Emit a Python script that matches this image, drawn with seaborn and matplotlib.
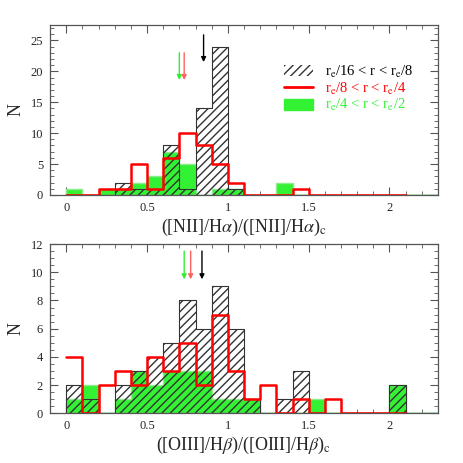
import numpy as np
import pandas as pd
import matplotlib
matplotlib.use("Agg")
import matplotlib.pyplot as plt
import seaborn as sns
from matplotlib.patches import Patch
from matplotlib.lines import Line2D
from matplotlib.ticker import MultipleLocator

# bins of 0.1 from 0 to 2.3
edges = [round(0.1 * i, 2) for i in range(24)]
edges_red = edges[:22]

# top panel: [NII]/Ha
nii_black = [0, 0, 0, 2, 1, 1, 8, 1, 14, 24, 1, 0, 0, 0, 0, 0, 0, 0, 0, 0, 0, 0, 0]
nii_red = [0, 0, 1, 1, 5, 1, 6, 10, 8, 5, 2, 0, 0, 0, 1, 0, 0, 0, 0, 0, 0]
nii_green = [1, 0, 1, 1, 2, 3, 7, 5, 0, 1, 1, 0, 0, 2, 0, 0, 0, 0, 0, 0, 0, 0, 0]
nii_medians = [0.85, 0.73, 0.70]  # black, red, green

# bottom panel: [OIII]/Hb
oiii_black = [2, 1, 0, 2, 3, 4, 5, 8, 6, 9, 6, 1, 0, 1, 3, 0, 0, 0, 0, 0, 2, 0, 0]
oiii_red = [4, 0, 2, 3, 2, 4, 3, 5, 2, 7, 3, 1, 2, 0, 1, 0, 1, 0, 0, 0, 0]
oiii_green = [1, 2, 0, 1, 3, 2, 3, 3, 3, 1, 1, 1, 0, 0, 0, 1, 0, 0, 0, 0, 2, 0, 0]
oiii_medians = [0.84, 0.77, 0.73]

labels = [r"r$_{\rm e}$/16 < r < r$_{\rm e}$/8",
          r"r$_{\rm e}$/8 < r < r$_{\rm e}$/4",
          r"r$_{\rm e}$/4 < r < r$_{\rm e}$/2"]

sns.set_style("ticks")
plt.rcParams["font.family"] = ["Liberation Serif", "DejaVu Serif"]
plt.rcParams["mathtext.fontset"] = "stix"
plt.rcParams["hatch.linewidth"] = 1.0

GREEN = "#33f233"
RED = "#ff0000"
FRAME = "#555555"


def hist_df(counts, bin_edges):
    mids = [bin_edges[i] + 0.05 for i in range(len(counts))]
    return pd.DataFrame({"x": mids, "n": counts})


fig = plt.figure(figsize=(4.63, 4.63), dpi=100)
ax1 = fig.add_axes([0.108, 0.579, 0.838, 0.367])
ax2 = fig.add_axes([0.108, 0.107, 0.838, 0.366])


def panel(ax, black, red, green, medians, ymax, arrows_black, arrows_col, xlabel,
          major_y, minor_y):
    sns.histplot(data=hist_df(green, edges), x="x", weights="n", bins=edges,
                 element="step", fill=True, color=GREEN, alpha=1, edgecolor="#8cec8c",
                 linewidth=1, ax=ax, zorder=1)
    sns.histplot(data=hist_df(black, edges), x="x", weights="n", bins=edges,
                 element="step", fill=True, color="#333333", hatch="////",
                 linewidth=0.8, ax=ax, zorder=2)
    hatched = ax.collections[-1]
    hatched.set_facecolor("none")
    hatched.set_edgecolor("#333333")
    sns.histplot(data=hist_df(red, edges_red), x="x", weights="n", bins=edges_red,
                 element="step", fill=False, color=RED, linewidth=1.8, ax=ax, zorder=3)
    for m, c in zip(medians, ["black", "#ff6060", "#33ee33"]):
        y0, y1 = arrows_black if c == "black" else arrows_col
        ax.annotate("", xy=(m, y1), xytext=(m, y0),
                    arrowprops=dict(arrowstyle="-|>", color=c, lw=1, mutation_scale=7,
                                    shrinkA=0, shrinkB=0), zorder=4)
    ax.set_xlim(-0.1, 2.3)
    ax.set_ylim(0, ymax)
    ax.xaxis.set_minor_locator(MultipleLocator(0.1))
    ax.yaxis.set_major_locator(MultipleLocator(major_y))
    ax.yaxis.set_minor_locator(MultipleLocator(minor_y))
    ax.set_xticks([0, 0.5, 1, 1.5, 2])
    ax.set_xticklabels(["0", "0.5", "1", "1.5", "2"])
    ax.tick_params(which="both", direction="in", top=True, right=True, color=FRAME,
                   labelsize=9, pad=5)
    ax.tick_params(which="major", length=6)
    ax.tick_params(which="minor", length=3)
    for s in ax.spines.values():
        s.set_color(FRAME)
        s.set_linewidth(0.9)
    ax.set_xlabel(xlabel, fontsize=13, labelpad=2)
    ax.set_ylabel("N", fontsize=13, labelpad=4)


panel(ax1, nii_black, nii_red, nii_green, nii_medians, 27.5, (25.9, 21.5), (23.0, 18.6),
      r"([NII]/H$\alpha$)/([NII]/H$\alpha$)$_{\rm c}$", 5, 1)
panel(ax2, oiii_black, oiii_red, oiii_green, oiii_medians, 12, (11.5, 9.5), (11.5, 9.5),
      r"([OIII]/H$\beta$)/([OIII]/H$\beta$)$_{\rm c}$", 2, 0.5)

handles = [Patch(facecolor="white", edgecolor="#333333", hatch="////", linewidth=0),
           Line2D([0], [0], color=RED, lw=2),
           Patch(facecolor=GREEN, edgecolor=GREEN)]
leg = ax1.legend(handles, labels, loc="upper left", bbox_to_anchor=(0.57, 0.85),
                 frameon=False, fontsize=10.5, handlelength=2.0, handleheight=0.8,
                 labelspacing=0.05, handletextpad=0.8,
                 labelcolor=["black", RED, GREEN])

fig.savefig("out.png", dpi=100)
